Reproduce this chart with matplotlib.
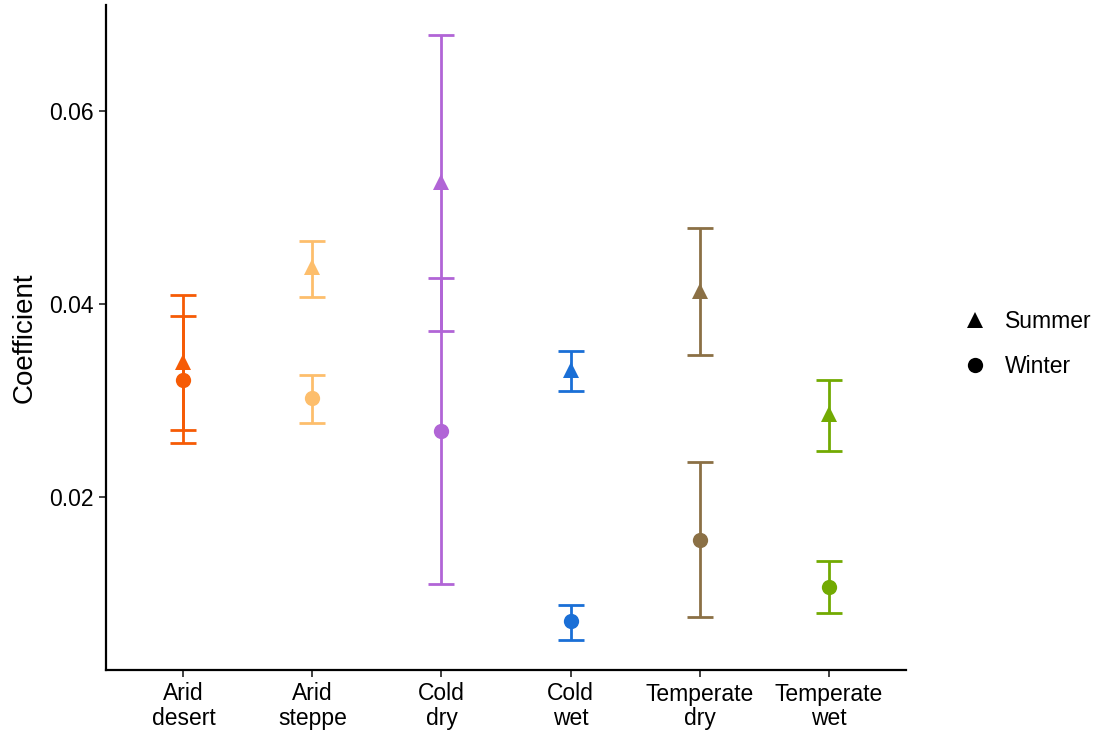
import matplotlib
matplotlib.use("Agg")
import matplotlib.pyplot as plt
from matplotlib.lines import Line2D

plt.rcParams['font.family'] = ['Liberation Sans', 'DejaVu Sans']

categories = ["Arid\ndesert", "Arid\nsteppe", "Cold\ndry", "Cold\nwet", "Temperate\ndry", "Temperate\nwet"]
colors = ["#F65B05", "#FDBE6C", "#B165D6", "#1A6FD6", "#8B7045", "#72AA02"]

summer = [0.0340, 0.0438, 0.0527, 0.0332, 0.0414, 0.0286]
summer_lo = [0.0256, 0.0407, 0.0372, 0.0310, 0.0347, 0.0248]
summer_hi = [0.0409, 0.0465, 0.0679, 0.0351, 0.0479, 0.0321]

winter = [0.0321, 0.0303, 0.0268, 0.0071, 0.0155, 0.0107]
winter_lo = [0.0269, 0.0277, 0.0110, 0.0052, 0.0075, 0.0080]
winter_hi = [0.0388, 0.0326, 0.0427, 0.0088, 0.0236, 0.0133]

yticks = [0.02, 0.04, 0.06]

fig = plt.figure(figsize=(10.99, 7.40), dpi=100)
ax = fig.add_axes([106/1099, 1-670/740, 800/1099, 665/740])

x = list(range(1, len(categories)+1))
for i in range(len(categories)):
    for val, lo, hi, mk, ms in [(summer[i], summer_lo[i], summer_hi[i], '^', 12),
                                (winter[i], winter_lo[i], winter_hi[i], 'o', 11)]:
        ax.errorbar([x[i]], [val], yerr=[[val-lo], [hi-val]], fmt='none',
                    ecolor=colors[i], elinewidth=2.0, capsize=9.5, capthick=2.0, zorder=2)
        ax.plot([x[i]], [val], marker=mk, color=colors[i], markersize=ms,
                linestyle='none', markeredgewidth=0, zorder=3)

ax.set_xlim(0.4, 6.6)
ax.set_ylim(0.002045, 0.071015)
ax.set_xticks(x)
ax.set_xticklabels(categories, fontsize=16.5, linespacing=1.1)
ax.set_yticks(yticks)
ax.set_yticklabels([f"{v:.2f}" for v in yticks], fontsize=16.5)
ax.set_ylabel("Coefficient", fontsize=20, labelpad=8)
for s in ['top', 'right']:
    ax.spines[s].set_visible(False)
for s in ['left', 'bottom']:
    ax.spines[s].set_linewidth(1.6)
ax.tick_params(axis='both', width=1.3, length=5, color='#333333', labelcolor='black', pad=4)

handles = [Line2D([], [], marker='^', color='black', linestyle='none', markersize=12, markeredgewidth=0),
           Line2D([], [], marker='o', color='black', linestyle='none', markersize=11, markeredgewidth=0)]
fig.legend(handles, ["Summer", "Winter"], loc='center left', bbox_to_anchor=(937/1099, 1-344/740),
           frameon=False, fontsize=16.5, handletextpad=0.55, labelspacing=0.95, handlelength=1.5)

fig.savefig("out.png", dpi=100)
